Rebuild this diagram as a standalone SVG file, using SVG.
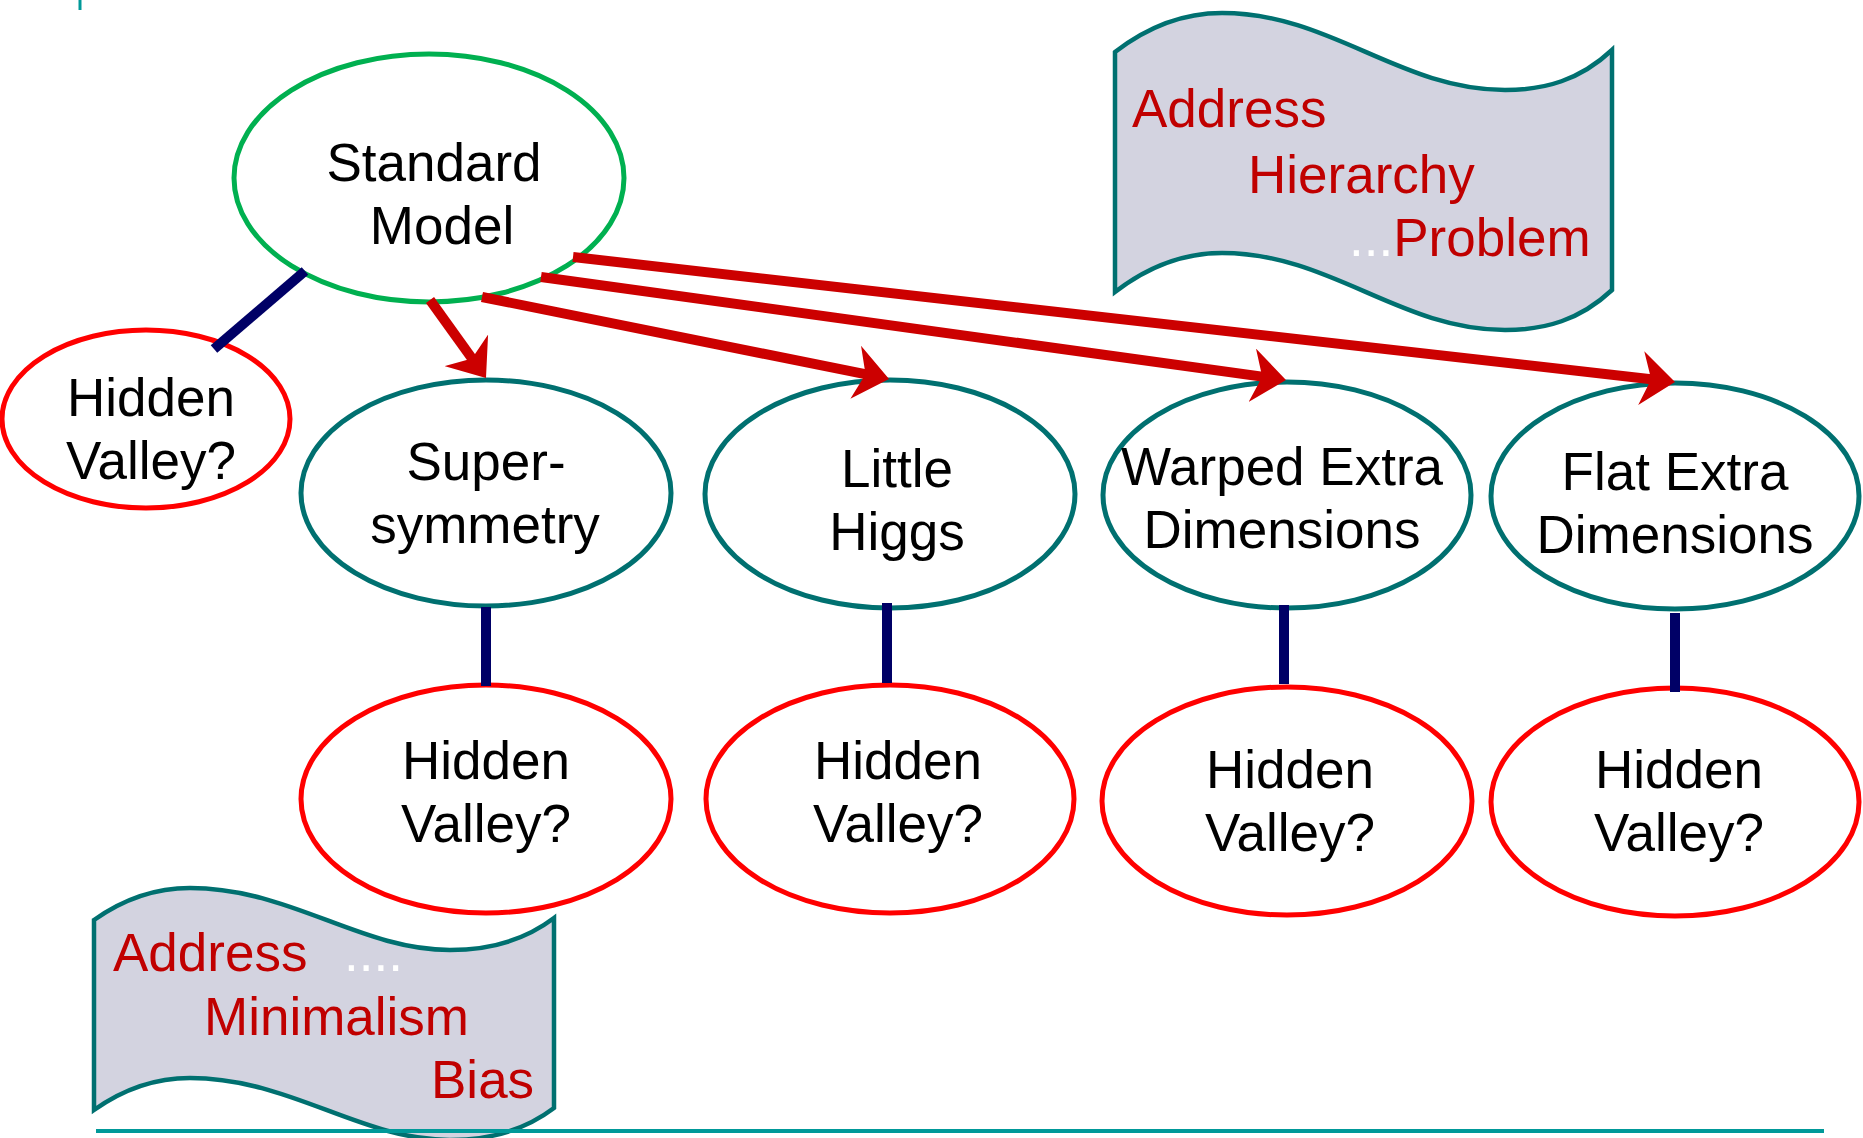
<svg xmlns="http://www.w3.org/2000/svg" width="1863" height="1138" viewBox="0 0 1863 1138">
<style>
text{font-family:"Liberation Sans",Arial,sans-serif;font-size:53px;}
.lbl{fill:#000;text-anchor:middle;}
.red{fill:#c00000;}
.dots{fill:#ffffff;}
.sm{fill:#fff;stroke:#00b050;stroke-width:5;}
.teal{fill:#fff;stroke:#007070;stroke-width:5;}
.hv{fill:#fff;stroke:#ff0000;stroke-width:5;}
.banner{fill:#d3d3e0;stroke:#007070;stroke-width:4.5;}
.navy{stroke:#000066;stroke-width:10;fill:none;}
.arrow{stroke:#cc0000;stroke-width:10;fill:none;marker-end:url(#ah);}
</style>
<defs>
<marker id="ah" markerUnits="userSpaceOnUse" viewBox="0 0 34 54" markerWidth="34" markerHeight="54" refX="21" refY="27" orient="auto">
<path d="M0,0 L34,27 L0,54 L10,27 Z" fill="#cc0000"/>
</marker>
</defs>
<rect x="0" y="0" width="1863" height="1138" fill="#ffffff"/>
<line x1="80" y1="0" x2="80" y2="10" stroke="#009999" stroke-width="3"/>

<g id="banner-hierarchy">
<path class="banner" d="M1115,52 C1150,25 1185,13 1222,13 C1330,13 1400,90 1505,90 C1545,90 1580,80 1612,50 L1612,290 C1580,320 1545,330 1505,330 C1400,330 1330,253 1222,253 C1185,253 1150,265 1115,292 Z"/>
<text class="red" x="1132" y="127">Address</text>
<text class="red" x="1248" y="193">Hierarchy</text>
<text class="red" x="1349" y="256"><tspan class="dots">...</tspan>Problem</text>
</g>

<g id="banner-minimalism">
<path class="banner" d="M94,920 C125,898 158,888 190,888 C290,888 360,950 450,950 C490,950 525,940 554,918 L554,1108 C525,1130 490,1140 450,1140 C360,1140 290,1078 190,1078 C158,1078 125,1088 94,1110 Z"/>
<text class="red" x="113" y="971">Address<tspan class="dots" x="344">....</tspan></text>
<text class="red" x="204" y="1035">Minimalism</text>
<text class="red" x="431" y="1098">Bias</text>
</g>

<line x1="96" y1="1131" x2="1824" y2="1131" stroke="#009999" stroke-width="4"/>

<g id="standard-model">
<ellipse class="sm" cx="429" cy="178" rx="195" ry="124"/>
<text class="lbl" x="434" y="181">Standard</text>
<text class="lbl" x="442" y="244">Model</text>
</g>

<g id="hv-sm">
<ellipse class="hv" cx="146" cy="419" rx="144" ry="89"/>
<text class="lbl" x="151" y="416">Hidden</text>
<text class="lbl" x="151" y="479">Valley?</text>
</g>

<g id="supersymmetry">
<ellipse class="teal" cx="486" cy="493" rx="185" ry="113"/>
<text class="lbl" x="486" y="480">Super-</text>
<text class="lbl" x="485" y="543">symmetry</text>
</g>

<g id="little-higgs">
<ellipse class="teal" cx="890" cy="494" rx="185" ry="114"/>
<text class="lbl" x="897" y="487">Little</text>
<text class="lbl" x="897" y="550">Higgs</text>
</g>

<g id="warped-extra">
<ellipse class="teal" cx="1287" cy="495" rx="184" ry="113"/>
<text class="lbl" x="1282" y="485">Warped Extra</text>
<text class="lbl" x="1282" y="548">Dimensions</text>
</g>

<g id="flat-extra">
<ellipse class="teal" cx="1675" cy="496" rx="184" ry="113"/>
<text class="lbl" x="1675" y="490">Flat Extra</text>
<text class="lbl" x="1675" y="553">Dimensions</text>
</g>

<g id="hv-susy">
<ellipse class="hv" cx="486" cy="799" rx="185" ry="114"/>
<text class="lbl" x="486" y="779">Hidden</text>
<text class="lbl" x="486" y="842">Valley?</text>
</g>

<g id="hv-lh">
<ellipse class="hv" cx="890" cy="799" rx="184" ry="114"/>
<text class="lbl" x="898" y="779">Hidden</text>
<text class="lbl" x="898" y="842">Valley?</text>
</g>

<g id="hv-warped">
<ellipse class="hv" cx="1287" cy="801" rx="185" ry="114"/>
<text class="lbl" x="1290" y="788">Hidden</text>
<text class="lbl" x="1290" y="851">Valley?</text>
</g>

<g id="hv-flat">
<ellipse class="hv" cx="1675" cy="802" rx="184" ry="114"/>
<text class="lbl" x="1679" y="788">Hidden</text>
<text class="lbl" x="1679" y="851">Valley?</text>
</g>

<g id="connectors">
<line class="navy" x1="305" y1="271" x2="214" y2="349"/>
<line class="navy" x1="486" y1="607" x2="486" y2="686"/>
<line class="navy" x1="887" y1="603" x2="887" y2="683"/>
<line class="navy" x1="1284" y1="605" x2="1284" y2="684"/>
<line class="navy" x1="1675" y1="613" x2="1675" y2="692"/>
<line class="arrow" x1="430" y1="300" x2="478.4" y2="367.4"/>
<line class="arrow" x1="482" y1="297" x2="876.3" y2="376.4"/>
<line class="arrow" x1="541" y1="277" x2="1273.1" y2="378.2"/>
<line class="arrow" x1="573" y1="257" x2="1662.1" y2="380.5"/>
</g>
</svg>
